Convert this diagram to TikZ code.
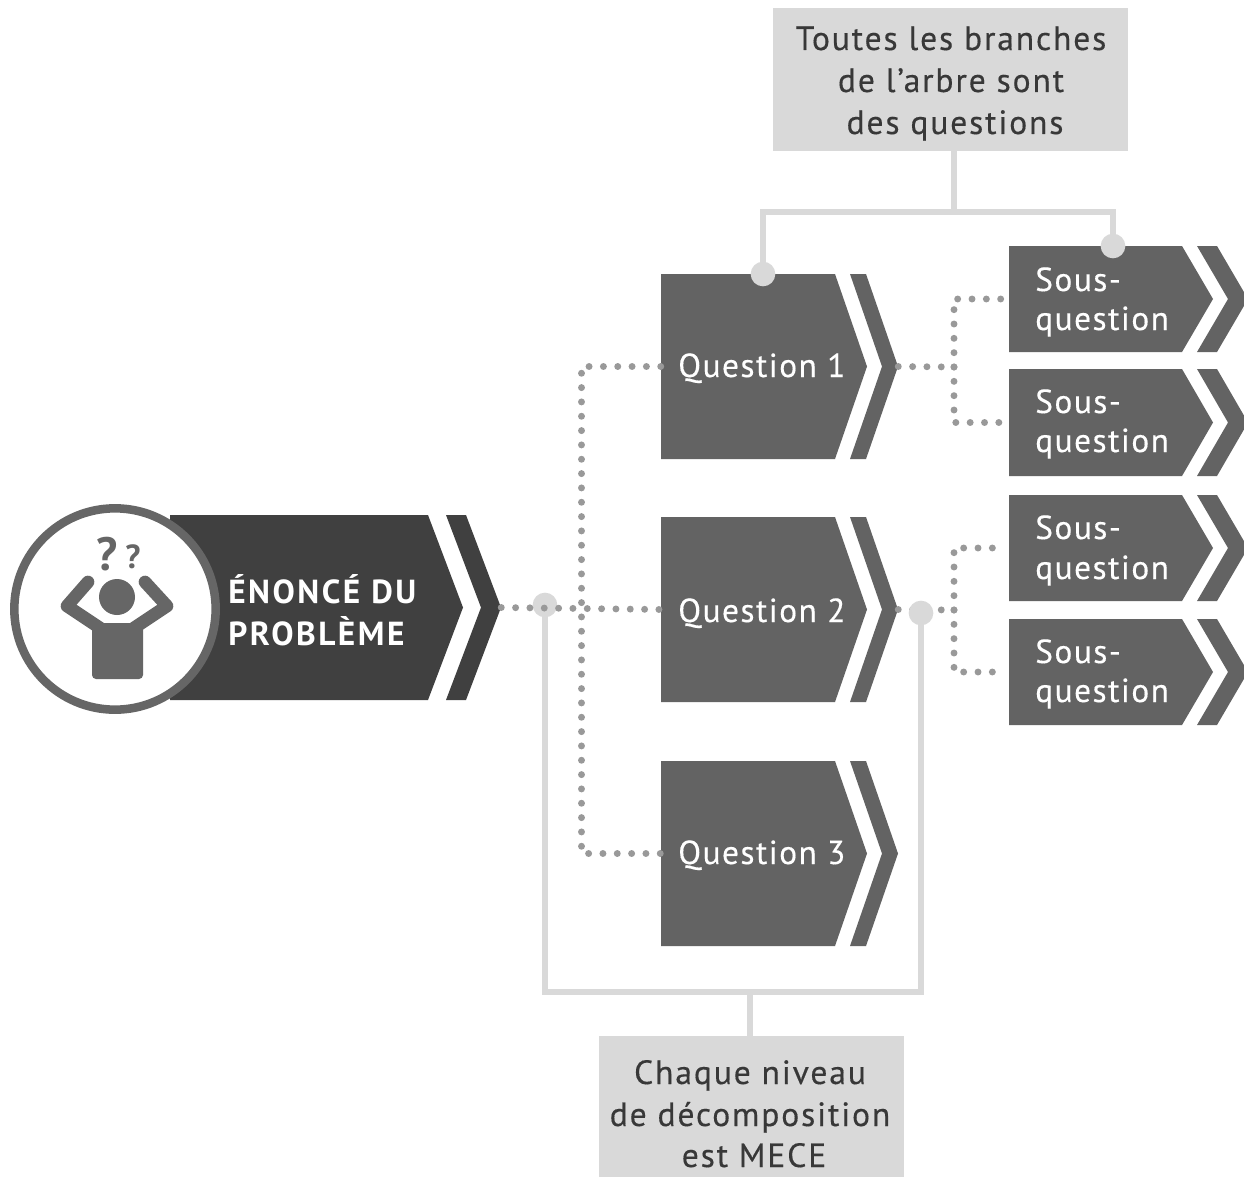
\documentclass[tikz,border=0pt]{standalone}
\usepackage{fontspec}
\setmainfont[LetterSpace=4.5,FakeBold=0.35]{PT Sans}
\newfontfamily\darkface[LetterSpace=5.5,FakeBold=0.35]{PT Sans}
\newfontfamily\headface[LetterSpace=7.5]{PT Sans Bold}
\usetikzlibrary{fit,calc}
\definecolor{darkfill}{HTML}{404040}
\definecolor{midfill}{HTML}{636363}
\definecolor{lightfill}{HTML}{D9D9D9}
\definecolor{dotcol}{HTML}{999999}
\definecolor{ringcol}{HTML}{666666}
\definecolor{textdark}{HTML}{383838}
\tikzset{
  frame/.style={inner sep=0pt,draw=none},
  whitetxt/.style={text=white,font=\fontsize{25pt}{30pt}\selectfont,anchor=base west,inner sep=0pt},
  boldtxt/.style={text=white,font=\headface\fontsize{25pt}{30pt}\selectfont,anchor=base west,inner sep=0pt},
  darktxt/.style={text=textdark,font=\darkface\fontsize{25.2pt}{30pt}\selectfont,anchor=base,inner sep=0pt},
  greybox/.style={fill=lightfill,draw=none,inner sep=0pt},
  lightline/.style={draw=lightfill,line width=3.8pt},
  lightdot/.style={circle,fill=lightfill,draw=none,minimum size=18.5pt,inner sep=0pt},
  dotline/.style={draw=dotcol,line width=5.2pt,line cap=round,dash pattern=on 0pt off 10.75pt},
}
% name, xl, top, bottom, colour, xb, slant, gap, chevron width
\newcommand{\chevshape}[9]{%
  \fill[#5] (#2,#3) -- (#6,#3) -- ({#6+#7},{(#3+#4)/2}) -- (#6,#4) -- (#2,#4) -- cycle;
  \fill[#5] ({#6+#8},#3) -- ({#6+#8+#9},#3) -- ({#6+#8+#9+#7},{(#3+#4)/2}) -- ({#6+#8+#9},#4) -- ({#6+#8},#4) -- ({#6+#8+#7},{(#3+#4)/2}) -- cycle;
  \node[frame,fit={(#2,#3)({#6+#8+#9+#7},#4)}] (#1) {};
}
\begin{document}
\begin{tikzpicture}[x=0.75pt,y=-0.75pt]
\path[use as bounding box,clip] (0,0) rectangle (1244,1177);
\fill[white] (0,0) rectangle (1244,1177);

% grey notes
\node[greybox,fit={(773,8)(1128,151)}] (note1) {};
\node[greybox,fit={(599,1036)(904,1177)}] (note2) {};
\node[darktxt] (note1a) at (951,50) {Toutes les branches};
\node[darktxt] (note1b) at (951,92) {de l’arbre sont};
\node[darktxt] (note1c) at (955,134) {des questions};
\node[darktxt] (note2a) at (750,1084) {Chaque niveau};
\node[darktxt] (note2b) at (750,1126) {de décomposition};
\node[darktxt] (note2c) at (754,1167) {est MECE};

% arrow shapes
\chevshape{m}{170}{515}{700}{darkfill}{428}{35}{18}{20}
\chevshape{q1}{661}{274}{459}{midfill}{835}{32}{15}{16}
\chevshape{q2}{661}{517}{702}{midfill}{835}{32}{15}{16}
\chevshape{q3}{661}{761}{946}{midfill}{835}{32}{15}{16}
\chevshape{s1}{1009}{246}{352}{midfill}{1182}{31}{15}{20}
\chevshape{s2}{1009}{369}{476}{midfill}{1182}{31}{15}{20}
\chevshape{s3}{1009}{495}{601}{midfill}{1182}{31}{15}{20}
\chevshape{s4}{1009}{619}{725}{midfill}{1182}{31}{15}{20}

% labels
\node[boldtxt] (mt1) at (228,603) {ÉNONCÉ DU};
\node[boldtxt] (mt2) at (228,645) {PROBLÈME};
\node[whitetxt] (q1t) at (678,377) {Question 1};
\node[whitetxt] (q2t) at (678,622) {Question 2};
\node[whitetxt] (q3t) at (678,864) {Question 3};
\foreach \n/\ya/\yb in {a/291/330,b/413/452,c/539/579,d/663/702}{
  \node[whitetxt] (s\n t1) at (1035,\ya) {Sous-};
  \node[whitetxt] (s\n t2) at (1035,\yb) {question};
}

% dotted stub that the light dot d4 covers
\coordinate (b2) at (954,610);
\draw[dotline] (q2.east) -- (b2);

% light connectors
\node[lightdot] (d1) at (763,274) {};
\node[lightdot] (d2) at (1113,246) {};
\node[lightdot] (d3) at (545,605) {};
\node[lightdot] (d4) at (921,613) {};
\coordinate (j1) at (954,212);
\coordinate (j2) at (750,992);
\draw[lightline] (d1.center) |- (j1) -| (d2.center);
\draw[lightline] (j1) -- (j1 |- note1.south);
\draw[lightline] (d3.center) |- (j2) -| (d4.center);
\draw[lightline] (j2) -- (j2 |- note2.north);

% dotted connectors
\coordinate (bus) at (581.5,608);
\coordinate (b1) at (954,367);
\draw[dotline] (m.east) -- (q2.west);
\draw[dotline] (q1.west) -| (bus) |- (q3.west);
\draw[dotline] (q1.east) -- (b1);
\draw[dotline,shorten >=3pt] (b1) |- (s1.west);
\draw[dotline,shorten >=3pt] (b1) |- (s2.west);
\draw[dotline,shorten >=3pt] (b2) |- (s3.west);
\draw[dotline,shorten >=3pt] (b2) |- (s4.west);

% person in a ring
\node[circle,fill=white,draw=ringcol,line width=6.4pt,minimum size=151pt,inner sep=0pt] (ring) at (115,609) {};
\fill[ringcol,rounded corners=3pt] (92,623) rectangle (143,679);
\fill[ringcol] (117,597) circle (18);
\draw[ringcol,line width=9.5pt,line cap=round,line join=round] (88,582) -- (67,606) -- (100,628);
\draw[ringcol,line width=9.5pt,line cap=round,line join=round] (145,582) -- (167,606) -- (134,628);
\node[text=ringcol,font=\headface\fontsize{35pt}{35pt}\selectfont,inner sep=0pt,anchor=base] (qm1) at (107,570) {?};
\node[text=ringcol,font=\headface\fontsize{25pt}{25pt}\selectfont,inner sep=0pt,anchor=base] (qm2) at (133,568) {?};
\end{tikzpicture}
\end{document}
